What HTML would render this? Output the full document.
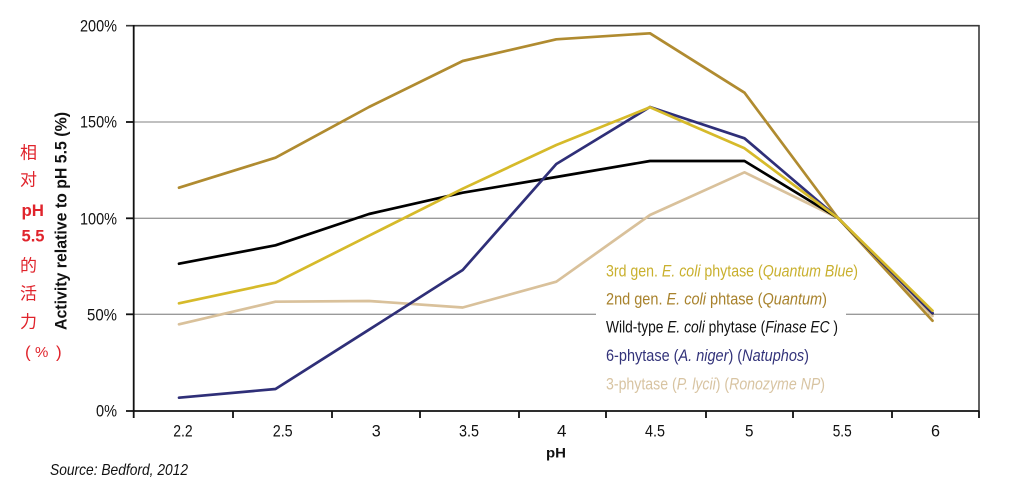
<!DOCTYPE html>
<html>
<head>
<meta charset="utf-8">
<style>
  html,body{margin:0;padding:0;background:#fff;}
  svg{display:block;}
  text{font-family:"Liberation Sans Narrow","Liberation Sans","Noto Sans CJK SC",sans-serif;}
</style>
</head>
<body>
<svg width="1028" height="494" viewBox="0 0 1028 494" xmlns="http://www.w3.org/2000/svg">
  <rect width="1028" height="494" fill="#fff"/>

  <!-- gridlines -->
  <g stroke="#9a9a9a" stroke-width="1.3">
    <line x1="134" y1="122" x2="979" y2="122"/>
    <line x1="134" y1="218.3" x2="979" y2="218.3"/>
    <line x1="134" y1="314.3" x2="979" y2="314.3"/>
  </g>

  <!-- frame -->
  <g stroke="#3a3a3a" stroke-width="1.6" fill="none">
    <line x1="126" y1="25.7" x2="979.5" y2="25.7"/>
    <line x1="979" y1="25" x2="979" y2="411"/>
  </g>
  <g stroke="#111" stroke-width="1.8">
    <line x1="133.7" y1="25" x2="133.7" y2="418"/>
    <line x1="126" y1="411" x2="979.5" y2="411"/>
    <!-- y ticks -->
    <line x1="126" y1="122" x2="134" y2="122"/>
    <line x1="126" y1="218.3" x2="134" y2="218.3"/>
    <line x1="126" y1="314.3" x2="134" y2="314.3"/>
    <!-- x ticks -->
    <line x1="233" y1="411" x2="233" y2="418"/>
    <line x1="332" y1="411" x2="332" y2="418"/>
    <line x1="420" y1="411" x2="420" y2="418"/>
    <line x1="519" y1="411" x2="519" y2="418"/>
    <line x1="606" y1="411" x2="606" y2="418"/>
    <line x1="706" y1="411" x2="706" y2="418"/>
    <line x1="793" y1="411" x2="793" y2="418"/>
    <line x1="892" y1="411" x2="892" y2="418"/>
    <line x1="979" y1="411" x2="979" y2="418"/>
  </g>

  <!-- legend background -->
  <rect x="596" y="256" width="250" height="140" fill="#fff"/>

  <!-- series -->
  <g fill="none" stroke-width="2.7" stroke-linejoin="round" stroke-linecap="round">
    <polyline stroke="#d9c19b" points="179,324.3 275.5,301.7 369,301 462.7,307.5 556.3,281.7 650,215 744.5,172.3 838,218 932.5,316"/>
    <polyline stroke="#b08b30" points="179,187.7 275.5,157.7 369,107 462.7,61 556.3,39.3 650,33.3 744.5,92.7 838,218 932.5,320.7"/>
    <polyline stroke="#000000" points="179,263.7 275.5,245.3 369,214 462.7,192.7 556.3,177 650,161 744.5,161 838,218 932.5,313.3"/>
    <polyline stroke="#2f2f78" points="179,397.7 275.5,389 369,329.7 462.7,270 556.3,164 650,107 744.5,138.3 838,218 932.5,313"/>
    <polyline stroke="#d6ba2a" points="179,303.3 275.5,282.7 369,235.7 462.7,188.7 556.3,145 650,107.3 744.5,148.3 838,218 932.5,310.7"/>
  </g>

  <!-- y tick labels -->
  <g font-size="17" fill="#111" text-anchor="end">
    <text x="117" y="31.7" textLength="37" lengthAdjust="spacingAndGlyphs">200%</text>
    <text x="117" y="127.7" textLength="37" lengthAdjust="spacingAndGlyphs">150%</text>
    <text x="117" y="224.3" textLength="37" lengthAdjust="spacingAndGlyphs">100%</text>
    <text x="117" y="320.7" textLength="30" lengthAdjust="spacingAndGlyphs">50%</text>
    <text x="117" y="416.7" textLength="21" lengthAdjust="spacingAndGlyphs">0%</text>
  </g>

  <!-- x tick labels -->
  <g font-size="17" fill="#111">
    <text x="173.3" y="436.7" textLength="19.4" lengthAdjust="spacingAndGlyphs">2.2</text>
    <text x="272.7" y="436.7" textLength="20" lengthAdjust="spacingAndGlyphs">2.5</text>
    <text x="371.7" y="436.7" textLength="9" lengthAdjust="spacingAndGlyphs">3</text>
    <text x="459" y="436.7" textLength="20" lengthAdjust="spacingAndGlyphs">3.5</text>
    <text x="557" y="436.7" textLength="9.5" lengthAdjust="spacingAndGlyphs">4</text>
    <text x="645" y="436.7" textLength="20" lengthAdjust="spacingAndGlyphs">4.5</text>
    <text x="745" y="436.7" textLength="8.5" lengthAdjust="spacingAndGlyphs">5</text>
    <text x="832.7" y="436.7" textLength="19" lengthAdjust="spacingAndGlyphs">5.5</text>
    <text x="931" y="436.7" textLength="9" lengthAdjust="spacingAndGlyphs">6</text>
  </g>

  <!-- axis titles -->
  <text x="546" y="457.7" font-size="14" font-weight="bold" fill="#111" textLength="20" lengthAdjust="spacingAndGlyphs">pH</text>
  <text transform="translate(66.5,330) rotate(-90)" x="0" y="0" font-size="17" font-weight="bold" fill="#111" textLength="218" lengthAdjust="spacingAndGlyphs">Activity relative to pH 5.5 (%)</text>

  <!-- legend -->
  <g font-size="17">
    <text x="606" y="276.7" fill="#c9b02e" textLength="252" lengthAdjust="spacingAndGlyphs">3rd gen. <tspan font-style="italic">E. coli</tspan> phytase (<tspan font-style="italic">Quantum Blue</tspan>)</text>
    <text x="606" y="304.5" fill="#a8822c" textLength="221" lengthAdjust="spacingAndGlyphs">2nd gen. <tspan font-style="italic">E. coli</tspan> phtase (<tspan font-style="italic">Quantum</tspan>)</text>
    <text x="606" y="332.7" fill="#111" textLength="232" lengthAdjust="spacingAndGlyphs">Wild-type <tspan font-style="italic">E. coli</tspan> phytase (<tspan font-style="italic">Finase EC</tspan> )</text>
    <text x="606" y="361" fill="#33337a" textLength="203" lengthAdjust="spacingAndGlyphs">6-phytase (<tspan font-style="italic">A. niger</tspan>) (<tspan font-style="italic">Natuphos</tspan>)</text>
    <text x="606" y="389.3" fill="#d8c4a2" textLength="219" lengthAdjust="spacingAndGlyphs">3-phytase (<tspan font-style="italic">P. lycii</tspan>) (<tspan font-style="italic">Ronozyme NP</tspan>)</text>
  </g>

  <!-- red Chinese label -->
  <g fill="#e0242c" font-size="17" style='font-family:"Liberation Sans","Noto Sans CJK SC",sans-serif'>
    <text x="20" y="158.5">相</text>
    <text x="20" y="185.5">对</text>
    <text x="21.5" y="216" font-weight="bold" textLength="22.5" lengthAdjust="spacingAndGlyphs">pH</text>
    <text x="21.5" y="241.7" font-weight="bold" textLength="23" lengthAdjust="spacingAndGlyphs">5.5</text>
    <text x="20" y="271.5">的</text>
    <text x="20" y="299.5">活</text>
    <text x="20" y="327.5">力</text>
    <text x="25" y="357.5" font-size="17">(</text>
    <text x="35" y="357" font-size="15">%</text>
    <text x="56" y="357.5" font-size="17">)</text>
  </g>

  <!-- source -->
  <text x="50" y="475" font-size="16" font-style="italic" fill="#111" textLength="138" lengthAdjust="spacingAndGlyphs">Source: Bedford, 2012</text>
</svg>
</body>
</html>
